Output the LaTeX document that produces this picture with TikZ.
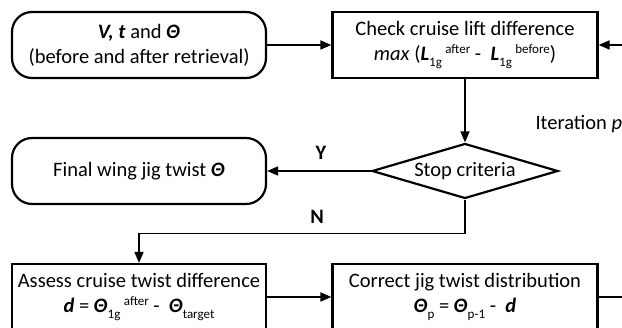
\documentclass[tikz,border=0pt]{standalone}
\usepackage{fontspec}
\setmainfont{Carlito}
\usetikzlibrary{shapes.geometric,arrows.meta}

\newcommand{\bi}[1]{\textbf{\textit{#1}}}
\newcommand{\subx}[1]{\raisebox{-6pt}{\fontsize{13}{13}\selectfont #1}}
\newcommand{\supx}[1]{\raisebox{7pt}{\fontsize{13}{13}\selectfont #1}}

\tikzset{
	procbox/.style={draw,line width=2.2pt,minimum width=265pt,minimum height=66pt,align=center,inner sep=0pt},
	termbox/.style={procbox,rounded corners=20pt,minimum width=254pt},
	decision/.style={diamond,draw,line width=2.2pt,minimum width=186pt,minimum height=55pt,inner sep=0pt,aspect=3},
	flow/.style={line width=1.7pt,-{Triangle[length=11pt,width=9pt]}},
}

\begin{document}
\begin{tikzpicture}[x=1pt,y=-1pt,every node/.style={font=\fontsize{20.5}{25}\selectfont}]
			\useasboundingbox (0,0) rectangle (622,328);

			% top row
			\node[termbox] (input) at (139,45) {\bi{V, t} and \bi{Θ}\\(before and after retrieval)};
			\node[procbox] (check) at (465,45) {Check cruise lift difference\\
				\textit{max} (\bi{L}\subx{1g}\,\supx{after}~-~~\bi{L}\subx{1g}\,\supx{before})};

			% decision
			\node[decision] (stop) at (465,171) {Stop criteria};
			\node[termbox] (final) at (139,171) {Final wing jig twist \bi{Θ}};
			\node[anchor=west] (iter) at (532,124) {Iteration \textit{p}};
			\node (ylab) at (321,153) {\textbf{Y}};
			\node (nlab) at (317,217) {\textbf{N}};

			% bottom row
			\node[procbox,minimum width=254pt] (assess) at (139,297) {Assess cruise twist difference\\
				\bi{d} = \bi{Θ}\subx{1g}\,\supx{after}~-~~\bi{Θ}\subx{target}};
			\node[procbox] (correct) at (465,297) {Correct jig twist distribution\\
				\bi{Θ}\subx{p} = \bi{Θ}\subx{p-1}~-~~\bi{d}};

			% connectors
			\draw[flow] (input) -- (check);
			\draw[flow] (check) -- (stop);
			\draw[flow] (stop) -- (final);
			\draw[flow] (stop.south) -- ++(0,34) -| (assess.north);
			\draw[flow] (assess) -- (correct);
			% loop back to the check (runs out of the frame)
			\draw[flow] (correct.east) -- ++(50,0) |- (check.east);
\end{tikzpicture}
\end{document}
